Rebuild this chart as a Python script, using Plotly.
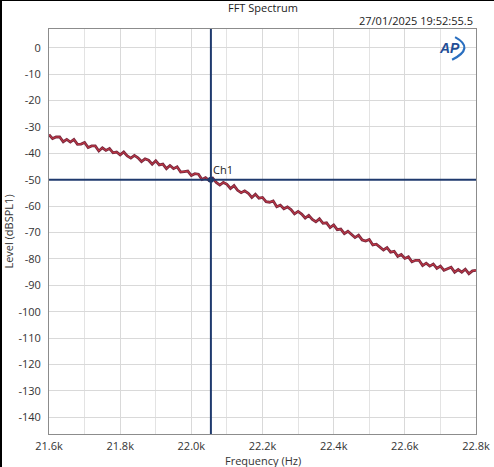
import plotly.graph_objects as go

freq_hz = [21600 + 10 * i for i in range(121)]
level_db = [
    -32.9, -34.4, -33.8, -33.8, -35.6, -34.7, -35.7, -34.7, -36.6, -36.5,
    -35.9, -37.8, -37.2, -37.2, -39.1, -37.9, -38.9, -38.2, -39.8, -39.5,
    -40.6, -39.5, -41.0, -41.8, -40.8, -41.7, -43.1, -42.1, -42.6, -44.1,
    -42.8, -44.4, -44.1, -45.8, -44.6, -45.8, -45.1, -47.1, -46.9, -46.7,
    -48.4, -47.7, -47.9, -49.9, -49.2, -50.3, -49.4, -51.0, -52.0, -51.0,
    -51.7, -53.3, -52.2, -54.0, -54.9, -54.2, -55.1, -56.7, -55.5, -57.0,
    -56.7, -58.3, -58.5, -58.0, -60.2, -59.6, -61.0, -60.3, -61.3, -62.9,
    -62.0, -63.0, -64.5, -63.5, -65.0, -65.9, -64.8, -66.5, -66.3, -68.1,
    -67.1, -68.9, -68.7, -70.4, -69.5, -70.6, -71.9, -71.0, -72.8, -73.2,
    -72.6, -74.7, -74.4, -75.5, -76.6, -75.7, -77.4, -77.1, -79.0, -78.3,
    -79.8, -79.2, -81.1, -80.5, -80.5, -82.5, -81.6, -82.7, -81.9, -83.6,
    -82.7, -84.3, -83.6, -83.1, -85.0, -84.0, -85.0, -83.9, -85.6, -84.5,
    -84.3,
]

x_tick_vals = [21600, 21800, 22000, 22200, 22400, 22600, 22800]
x_tick_text = ["21.6k", "21.8k", "22.0k", "22.2k", "22.4k", "22.6k", "22.8k"]
y_tick_vals = [0, -10, -20, -30, -40, -50, -60, -70, -80, -90, -100, -110, -120, -130, -140]
y_tick_text = ["0", "-10", "-20", "-30", "-40", "-50", "-60", "-70", "-80", "-90",
               "-100", "-110", "-120", "-130", "-140"]

cursor_x = 22055
cursor_y = -50
title_text = "FFT Spectrum"
timestamp = "27/01/2025 19:52:55.5"
x_title = "Frequency (Hz)"
y_title = "Level (dBSPL1)"

FONT = "Open Sans"
TXT = "#333333"
CURSOR = "#1f3a6e"

fig = go.Figure()
fig.add_trace(go.Scatter(x=freq_hz, y=level_db, mode="lines",
                         line=dict(color="#7a2a40", width=2.8), hoverinfo="skip",
                         showlegend=False))
fig.add_trace(go.Scatter(x=freq_hz, y=level_db, mode="lines",
                         line=dict(color="#cc3640", width=1.0), showlegend=False))
fig.add_trace(go.Scatter(x=[cursor_x], y=[cursor_y], mode="markers",
                         marker=dict(color=CURSOR, size=6), showlegend=False))

fig.add_vline(x=cursor_x, line=dict(color=CURSOR, width=2))
fig.add_hline(y=cursor_y, line=dict(color=CURSOR, width=2))

fig.add_annotation(x=cursor_x, y=cursor_y, text="Ch1", showarrow=False,
                   xanchor="left", yanchor="bottom", xshift=0, yshift=1,
                   font=dict(family=FONT, size=11, color="#222222"))

# Title & timestamp
fig.add_annotation(xref="paper", yref="paper", x=0.5, y=1.0, yshift=22,
                   text=title_text, showarrow=False, xanchor="center", yanchor="middle",
                   font=dict(family=FONT, size=11, color="#222222"))
fig.add_annotation(xref="paper", yref="paper", x=0.997, y=1.0, yshift=9,
                   text=timestamp, showarrow=False, xanchor="right", yanchor="middle",
                   font=dict(family=FONT, size=11, color="#222222"))
# x-axis title
fig.add_annotation(xref="paper", yref="paper", x=0.5, y=0.0, yshift=-26,
                   text=x_title, showarrow=False, xanchor="center", yanchor="middle",
                   font=dict(family=FONT, size=11, color=TXT))

# AP logo
fig.add_annotation(xref="paper", yref="paper", x=0.937, y=0.952,
                   text="<b><i>AP</i></b>", showarrow=False, xanchor="center", yanchor="middle",
                   font=dict(family="Liberation Sans", size=14, color="#1f4e96"))
fig.add_shape(type="path", xref="paper", yref="paper",
              path="M 0.951 0.980 Q 0.998 0.953 0.944 0.924",
              line=dict(color="#2a6fc0", width=2.2))

fig.update_layout(
    width=494, height=467,
    margin=dict(l=49, r=18, t=29, b=33),
    paper_bgcolor="white", plot_bgcolor="white",
    font=dict(family=FONT, size=11, color=TXT),
    showlegend=False,
)
fig.update_xaxes(
    range=[21600, 22800], tickvals=x_tick_vals, ticktext=x_tick_text,
    showgrid=True, gridcolor="#d9d9d9", gridwidth=1,
    minor=dict(dtick=100, tick0=21600, showgrid=True, gridcolor="#e3e3e3"),
    showline=True, linecolor="#8c8c8c", linewidth=1, mirror=True,
    zeroline=False, ticks="", ticklabelstandoff=2, automargin=False,
    tickfont=dict(size=11, color=TXT),
)
fig.update_yaxes(
    range=[-146.3, 7.1], tickvals=y_tick_vals, ticktext=y_tick_text,
    showgrid=True, gridcolor="#d9d9d9", gridwidth=1,
    showline=True, linecolor="#8c8c8c", linewidth=1, mirror=True,
    zeroline=False, ticks="", ticklabelstandoff=5, automargin=False,
    title=dict(text=y_title, standoff=2, font=dict(size=11, color=TXT)),
    tickfont=dict(size=11, color=TXT),
)

post = (
    "document.body.style.margin='0';document.body.style.overflow='hidden';"
    "var a=document.createElement('div');"
    "a.style.cssText='position:absolute;left:0;top:0;width:2px;height:467px;background:#000;z-index:10';"
    "document.body.appendChild(a);"
    "var b=document.createElement('div');"
    "b.style.cssText='position:absolute;left:0;top:0;width:494px;height:1px;background:#000;z-index:10';"
    "document.body.appendChild(b);"
)
fig.write_html("out.html", config={"displayModeBar": False}, post_script=post)
